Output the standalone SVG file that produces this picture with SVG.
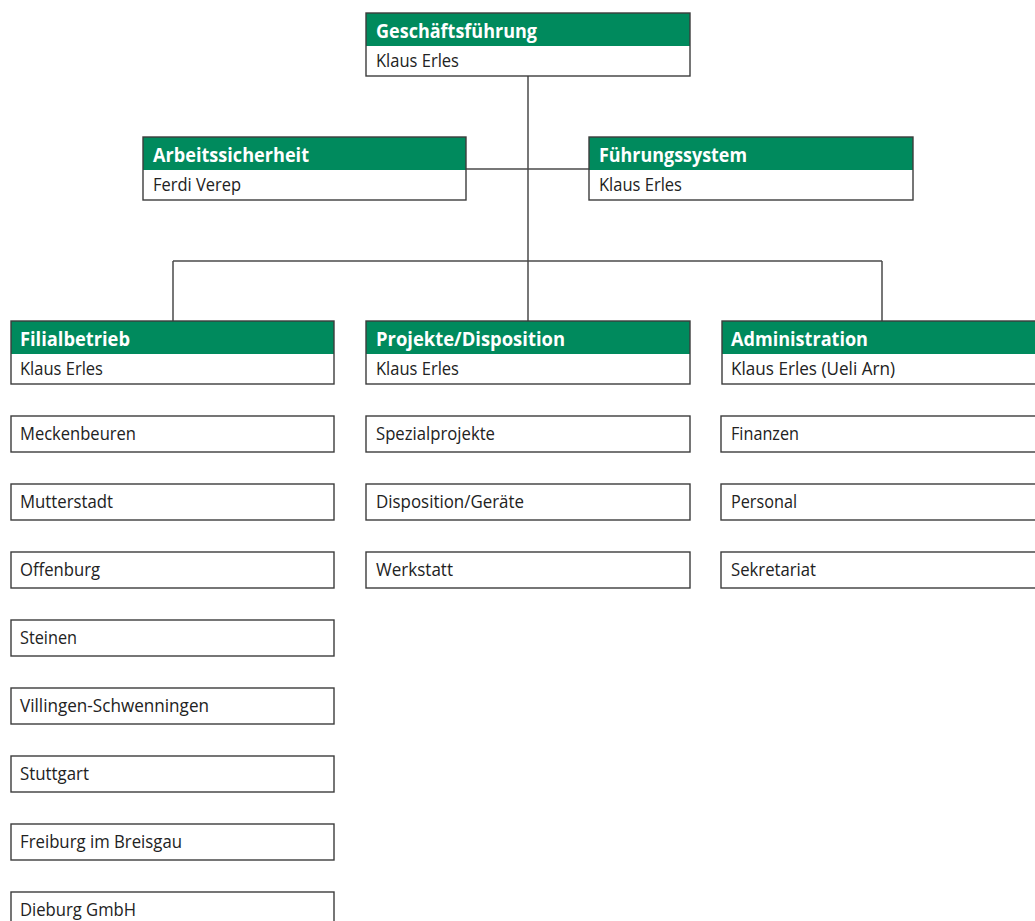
<svg xmlns="http://www.w3.org/2000/svg" width="1035" height="921" viewBox="0 0 1035 921">
<style>
.bg{fill:#ffffff}
.hd{fill:#008a5d}
.bd{fill:none;stroke:#3c3c3c;stroke-width:1.4}
.ln{fill:none;stroke:#4a4a4a;stroke-width:1.5}
.t{font-family:"Open Sans","Noto Sans","Liberation Sans",sans-serif;font-size:18px;fill:#222222}
.h{font-family:"Open Sans","Noto Sans","Liberation Sans",sans-serif;font-size:19px;font-weight:bold;fill:#ffffff}
</style>
<rect x="0" y="0" width="1035" height="921" fill="#ffffff"/>
<g id="connectors">
<line class="ln" x1="528" y1="76" x2="528" y2="321"/>
<line class="ln" x1="466" y1="169" x2="589" y2="169"/>
<line class="ln" x1="173" y1="261" x2="882" y2="261"/>
<line class="ln" x1="173" y1="261" x2="173" y2="321"/>
<line class="ln" x1="882" y1="261" x2="882" y2="321"/>
</g>
<g id="geschaeftsfuehrung">
<rect class="bg" x="366" y="13" width="324" height="63"/>
<rect class="hd" x="366" y="13" width="324" height="33"/>
<rect class="bd" x="366" y="13" width="324" height="63"/>
<text class="h" x="376" y="38" textLength="161" lengthAdjust="spacingAndGlyphs">Geschäftsführung</text>
<text class="t" x="376" y="67" textLength="83" lengthAdjust="spacingAndGlyphs">Klaus Erles</text>
</g>
<g id="arbeitssicherheit">
<rect class="bg" x="143" y="137" width="323" height="63"/>
<rect class="hd" x="143" y="137" width="323" height="33"/>
<rect class="bd" x="143" y="137" width="323" height="63"/>
<text class="h" x="153" y="162" textLength="156" lengthAdjust="spacingAndGlyphs">Arbeitssicherheit</text>
<text class="t" x="153" y="191" textLength="88" lengthAdjust="spacingAndGlyphs">Ferdi Verep</text>
</g>
<g id="fuehrungssystem">
<rect class="bg" x="589" y="137" width="324" height="63"/>
<rect class="hd" x="589" y="137" width="324" height="33"/>
<rect class="bd" x="589" y="137" width="324" height="63"/>
<text class="h" x="599" y="162" textLength="148" lengthAdjust="spacingAndGlyphs">Führungssystem</text>
<text class="t" x="599" y="191" textLength="83" lengthAdjust="spacingAndGlyphs">Klaus Erles</text>
</g>
<g id="filialbetrieb">
<rect class="bg" x="11" y="321" width="323" height="63"/>
<rect class="hd" x="11" y="321" width="323" height="33"/>
<rect class="bd" x="11" y="321" width="323" height="63"/>
<text class="h" x="20" y="346" textLength="110" lengthAdjust="spacingAndGlyphs">Filialbetrieb</text>
<text class="t" x="20" y="375" textLength="83" lengthAdjust="spacingAndGlyphs">Klaus Erles</text>
</g>
<g id="projekte">
<rect class="bg" x="366" y="321" width="324" height="63"/>
<rect class="hd" x="366" y="321" width="324" height="33"/>
<rect class="bd" x="366" y="321" width="324" height="63"/>
<text class="h" x="376" y="346" textLength="189" lengthAdjust="spacingAndGlyphs">Projekte/Disposition</text>
<text class="t" x="376" y="375" textLength="83" lengthAdjust="spacingAndGlyphs">Klaus Erles</text>
</g>
<g id="administration">
<rect class="bg" x="722" y="321" width="324" height="63"/>
<rect class="hd" x="722" y="321" width="324" height="33"/>
<rect class="bd" x="722" y="321" width="324" height="63"/>
<text class="h" x="731" y="346" textLength="137" lengthAdjust="spacingAndGlyphs">Administration</text>
<text class="t" x="731" y="375" textLength="164" lengthAdjust="spacingAndGlyphs">Klaus Erles (Ueli Arn)</text>
</g>
<g id="meckenbeuren"><rect class="bd" x="11" y="416" width="323" height="36"/><text class="t" x="20" y="440" textLength="116" lengthAdjust="spacingAndGlyphs">Meckenbeuren</text></g>
<g id="mutterstadt"><rect class="bd" x="11" y="484" width="323" height="36"/><text class="t" x="20" y="508" textLength="93" lengthAdjust="spacingAndGlyphs">Mutterstadt</text></g>
<g id="offenburg"><rect class="bd" x="11" y="552" width="323" height="36"/><text class="t" x="20" y="576" textLength="80" lengthAdjust="spacingAndGlyphs">Offenburg</text></g>
<g id="steinen"><rect class="bd" x="11" y="620" width="323" height="36"/><text class="t" x="20" y="644" textLength="57" lengthAdjust="spacingAndGlyphs">Steinen</text></g>
<g id="villingen"><rect class="bd" x="11" y="688" width="323" height="36"/><text class="t" x="20" y="712" textLength="189" lengthAdjust="spacingAndGlyphs">Villingen-Schwenningen</text></g>
<g id="stuttgart"><rect class="bd" x="11" y="756" width="323" height="36"/><text class="t" x="20" y="780" textLength="69" lengthAdjust="spacingAndGlyphs">Stuttgart</text></g>
<g id="freiburg"><rect class="bd" x="11" y="824" width="323" height="36"/><text class="t" x="20" y="848" textLength="162" lengthAdjust="spacingAndGlyphs">Freiburg im Breisgau</text></g>
<g id="dieburg"><rect class="bd" x="11" y="892" width="323" height="36"/><text class="t" x="20" y="916" textLength="116" lengthAdjust="spacingAndGlyphs">Dieburg GmbH</text></g>
<g id="spezialprojekte"><rect class="bd" x="366" y="416" width="324" height="36"/><text class="t" x="376" y="440" textLength="119" lengthAdjust="spacingAndGlyphs">Spezialprojekte</text></g>
<g id="disposition"><rect class="bd" x="366" y="484" width="324" height="36"/><text class="t" x="376" y="508" textLength="148" lengthAdjust="spacingAndGlyphs">Disposition/Geräte</text></g>
<g id="werkstatt"><rect class="bd" x="366" y="552" width="324" height="36"/><text class="t" x="376" y="576" textLength="77" lengthAdjust="spacingAndGlyphs">Werkstatt</text></g>
<g id="finanzen"><rect class="bd" x="721" y="416" width="325" height="36"/><text class="t" x="731" y="440" textLength="68" lengthAdjust="spacingAndGlyphs">Finanzen</text></g>
<g id="personal"><rect class="bd" x="721" y="484" width="325" height="36"/><text class="t" x="731" y="508" textLength="66" lengthAdjust="spacingAndGlyphs">Personal</text></g>
<g id="sekretariat"><rect class="bd" x="721" y="552" width="325" height="36"/><text class="t" x="731" y="576" textLength="85" lengthAdjust="spacingAndGlyphs">Sekretariat</text></g>
</svg>
